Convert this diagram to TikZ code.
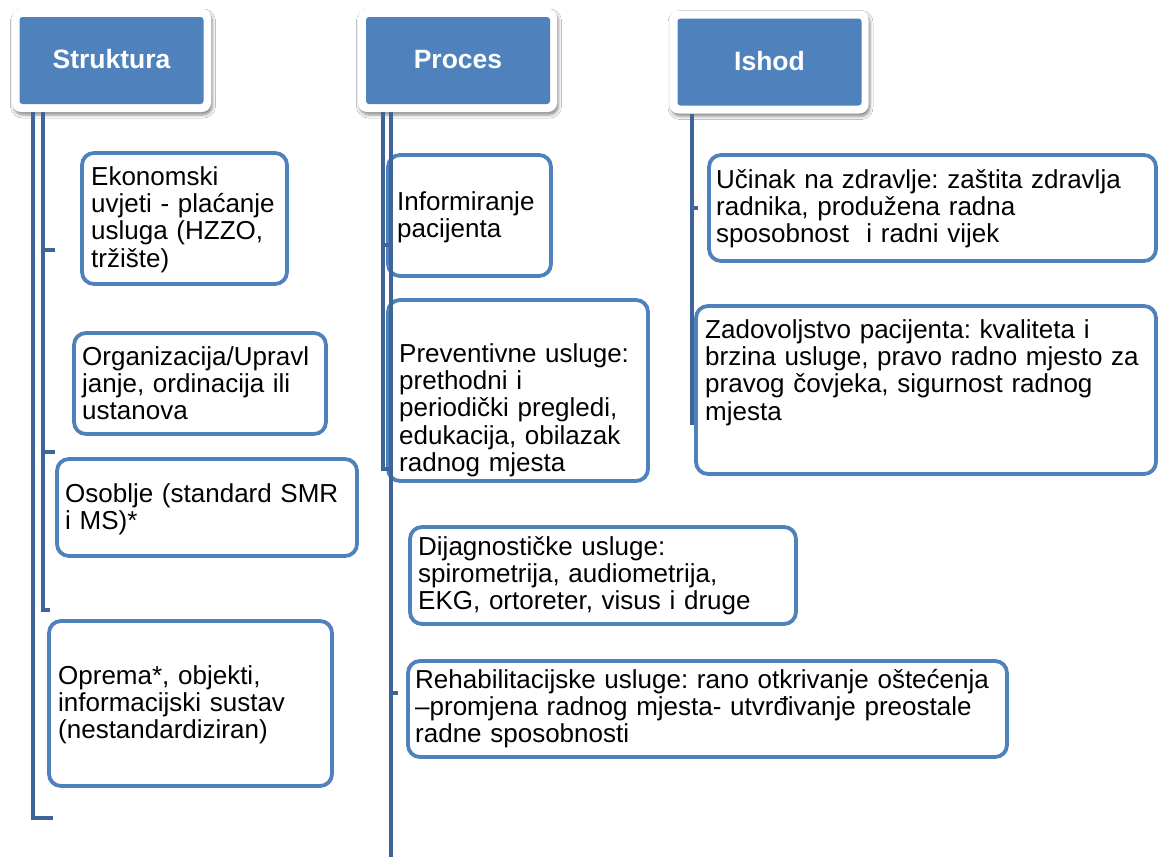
\documentclass[tikz,border=0pt]{standalone}
\usepackage{fontspec}
\setmainfont{Liberation Sans}
\usetikzlibrary{shadows.blur}
\definecolor{boxblue}{RGB}{79,129,189}
\definecolor{lineblue}{RGB}{63,101,152}
\frenchspacing
\begin{document}
\begin{tikzpicture}[x=1pt,y=-1pt,
  box/.style={draw=boxblue, line width=3.8pt, rounded corners=12pt, fill=white, inner sep=0pt},
  txt/.style={font=\fontsize{26}{27.4}\selectfont, text width=600pt, align=left, inner sep=0pt, anchor=base west},
  conn/.style={draw=lineblue, line width=4.5pt},
  hout/.style={fill=white, rounded corners=9pt, blur shadow={shadow xshift=1.5pt, shadow yshift=-3pt, shadow blur radius=3pt, shadow opacity=45}, minimum width=199pt, minimum height=103pt, inner sep=0pt},
  hin/.style={fill=boxblue, rounded corners=3pt, minimum width=184pt, minimum height=87pt, inner sep=0pt},
  htxt/.style={font=\fontsize{26.5}{30}\selectfont\bfseries, text=white, anchor=base, inner sep=0pt}]
\fill[white] (0,0) rectangle (1159,857);
\useasboundingbox (0,0) rectangle (1159,857);

% Struktura boxes
\node[box, minimum width=205pt, minimum height=131pt] (s1) at (184.5,218.5) {};
\node[txt] (s1t) at (91,185) {Ekonomski\\uvjeti - plaćanje\\usluga (HZZO,\\tržište)};
\node[box, minimum width=252pt, minimum height=101pt] (s2) at (200,383.5) {};
\node[txt] (s2t) at (82,365) {Organizacija/Upravl\\janje, ordinacija ili\\ustanova};
\node[box, minimum width=300pt, minimum height=97pt] (s3) at (207,507.5) {};
\node[txt] (s3t) at (65,502) {Osoblje (standard SMR\\i MS)*};
\node[box, minimum width=283pt, minimum height=165pt] (s4) at (190.5,703.5) {};
\node[txt] (s4t) at (58,684) {Oprema*, objekti,\\informacijski sustav\\(nestandardiziran)};

% Proces boxes
\node[box, minimum width=163pt, minimum height=121pt] (p1) at (469.5,215.5) {};
\node[txt] (p1t) at (397,210) {Informiranje\\pacijenta};
\node[box, minimum width=260pt, minimum height=181pt] (p2) at (518,390.5) {};
\node[txt] (p2t) at (399,362) {Preventivne usluge:\\prethodni i\\periodički pregledi,\\edukacija, obilazak\\radnog mjesta};
\node[box, minimum width=386pt, minimum height=97pt] (p3) at (603,575.5) {};
\node[txt] (p3t) at (418,555) {Dijagnostičke usluge:\\spirometrija, audiometrija,\\EKG, ortoreter, visus i druge};
\node[box, minimum width=599pt, minimum height=96pt] (p4) at (707.5,709) {};
\node[txt] (p4t) at (415,688) {Rehabilitacijske usluge: rano otkrivanje oštećenja\\–promjena radnog mjesta- utvrđivanje preostale\\radne sposobnosti};

% Ishod boxes
\node[box, minimum width=447pt, minimum height=106pt] (i1) at (932.5,208) {};
\node[txt] (i1t) at (716,188) {Učinak na zdravlje: zaštita zdravlja\\radnika, produžena radna\\sposobnost\ \ i radni vijek};
\node[box, minimum width=460pt, minimum height=168pt] (i2) at (926,390) {};
\node[txt] (i2t) at (705,338) {Zadovoljstvo pacijenta: kvaliteta i\\brzina usluge, pravo radno mjesto za\\pravog čovjeka, sigurnost radnog\\mjesta};

% headers
\node[hout] (hSo) at (111.5,60.5) {};
\node[hout] (hPo) at (457.5,60.5) {};
\node[hout] (hIo) at (769,62) {};

% connectors
\coordinate (sA) at (33,818);
\coordinate (sB) at (43,610);
\coordinate (sT1) at (55,250);
\coordinate (sT2) at (55,452);
\draw[conn] (hSo.south -| sA) -- (sA) -- ++(20,0);
\draw[conn] (hSo.south -| sB) -- (sB) -- ++(7,0);
\draw[conn] (sT1 -| sB) -- (sT1);
\draw[conn] (sT2 -| sB) -- (sT2);

\coordinate (pA) at (383,469);
\coordinate (pB) at (391,857);
\coordinate (pT1) at (391,245);
\coordinate (pT2) at (398,693);
\draw[conn] (hPo.south -| pA) -- (pA) -- ++(6,0);
\draw[conn] (hPo.south -| pB) -- (pB);
\draw[conn] (pT1 -| pA) -- (pT1);
\draw[conn] (pT2 -| pB) -- (pT2);

\coordinate (iA) at (692,425);
\coordinate (iT) at (698,208);
\draw[conn] (hIo.south -| iA) -- (iA);
\draw[conn] (iT -| iA) -- (iT);

% header faces
\node[hin] (hS) at (111.5,60.5) {};
\node[htxt] (tS) at (111.5,68) {Struktura};
\node[hin] (hP) at (458,60.5) {};
\node[htxt] (tP) at (458,68) {Proces};
\node[hin] (hI) at (769.5,62) {};
\node[htxt] (tI) at (769.5,70) {Ishod};
\end{tikzpicture}
\end{document}
